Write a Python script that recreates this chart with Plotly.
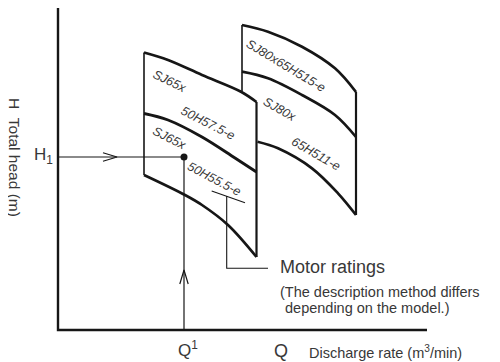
import plotly.graph_objects as go

# ---- data (chart units: Q to the right, H upward, origin at axis corner) ----
# Left pump block: SJ65x50H57.5-e (upper band) / SJ65x50H55.5-e (lower band)
left_top_q = [86, 110, 144, 183, 198.5]
left_top_h = [277.5, 270, 255, 238.3, 228]
left_mid_q = [86, 110, 144, 177, 198.5]
left_mid_h = [216.5, 210, 193, 172, 158]
left_bot_q = [86, 127, 144, 170, 198.5]
left_bot_h = [155, 135, 125, 105, 73]
left_edge_q = [86, 198.5]          # left / right vertical edges
left_edge_h = [[277.5, 155], [228, 73]]

# Right pump block: SJ80x65H515-e (upper band) / SJ80x65H511-e (lower band)
right_top_q = [184, 210, 244, 277, 298]
right_top_h = [305, 298.3, 283.3, 261.7, 238]
right_mid_q = [184, 210, 244, 277, 298]
right_mid_h = [258.3, 251.7, 235, 215, 193]
right_bot_q = [199.5, 220, 254, 280, 298]
right_bot_h = [188.3, 181.7, 161.7, 136.7, 115]
right_edge_q = [184, 298]
right_edge_h = [[305, 238.5], [238, 115]]

# Axes extents
axis_q_max = 369
axis_h_max = 322

# Operating point
Q1 = 126
H1 = 173
h_arrow_q = 59      # tip of arrow on H1 line
q_arrow_h = 60      # tip of arrow on Q1 line

# Motor-rating leader
underline_q = [153.7, 187]
underline_h = [139, 127.3]
leader_q = [168.7, 168.7, 210]
leader_h = [134, 61.7, 61.7]

# Band labels: (text, q, h, angle)
band_labels = [
    ("SJ65x", 111, 249, 26),
    ("50H57.5-e", 149.5, 207.5, 27),
    ("SJ65x", 111, 192.5, 27),
    ("50H55.5-e", 156, 151, 28),
    ("SJ80x65H515-e", 228, 264, 31),
    ("SJ80x", 221, 221, 30),
    ("65H511-e", 258, 176, 30),
]

LINE = "#161616"
TEXT = "#383838"
FONT = "Liberation Sans, Arial, sans-serif"

fig = go.Figure()

def add_line(q, h, width, shape="linear", color=LINE):
    fig.add_trace(go.Scatter(x=q, y=h, mode="lines",
                             line=dict(color=color, width=width, shape=shape),
                             hoverinfo="skip", showlegend=False))

# axes
add_line([0, 0, axis_q_max], [axis_h_max, 0, 0], 2.4)

# right block first (behind)
add_line(right_top_q, right_top_h, 2.7, "spline")
add_line(right_mid_q, right_mid_h, 2.7, "spline")
add_line(right_bot_q, right_bot_h, 2.7, "spline")
add_line([right_edge_q[0]] * 2, right_edge_h[0], 1.6)
add_line([right_edge_q[1]] * 2, right_edge_h[1], 2.2)

# left block
add_line(left_top_q, left_top_h, 2.7, "spline")
add_line(left_mid_q, left_mid_h, 2.9, "spline")
add_line(left_bot_q, left_bot_h, 2.7, "spline")
add_line([left_edge_q[0]] * 2, left_edge_h[0], 1.6)
add_line([left_edge_q[1]] * 2, left_edge_h[1], 2.2)

# operating lines
add_line([0, Q1], [H1, H1], 1.2)
add_line([Q1, Q1], [H1, 0], 1.2)
# open chevron arrows
al, aw = 14, 4.2
add_line([h_arrow_q - al, h_arrow_q, h_arrow_q - al], [H1 + aw, H1, H1 - aw], 1.2)
add_line([Q1 - aw, Q1, Q1 + aw], [q_arrow_h - al, q_arrow_h, q_arrow_h - al], 1.2)
fig.add_trace(go.Scatter(x=[Q1], y=[H1], mode="markers",
                         marker=dict(color=LINE, size=7), hoverinfo="skip",
                         showlegend=False))

# leader line
add_line(underline_q, underline_h, 1.1)
add_line(leader_q, leader_h, 1.1)

ann = []
for txt, q, h, ang in band_labels:
    ann.append(dict(x=q, y=h, text="<i>" + txt + "</i>", textangle=ang,
                    showarrow=False, font=dict(family=FONT, size=12.5, color=TEXT),
                    xanchor="center", yanchor="middle"))

ann += [
    dict(x=-43, y=173, text="H\u00a0\u00a0Total head (m)", textangle=90,
         showarrow=False, font=dict(family=FONT, size=15.5, color=TEXT)),
    dict(x=-14.5, y=174, text="H<sub>1</sub>", showarrow=False,
         font=dict(family=FONT, size=17, color=TEXT)),
    dict(x=130, y=-18.5, text="Q<sup>1</sup>", showarrow=False,
         font=dict(family=FONT, size=17, color=TEXT)),
    dict(x=222.8, y=-20.5, text="Q", showarrow=False,
         font=dict(family=FONT, size=18, color=TEXT)),
    dict(x=248.7, y=-21.5, text="Discharge rate (m<sup>3</sup>/min)", showarrow=False,
         xanchor="left", font=dict(family=FONT, size=14.5, color=TEXT)),
    dict(x=220, y=63.5, text="Motor ratings", showarrow=False, xanchor="left",
         font=dict(family=FONT, size=18, color=TEXT)),
    dict(x=220, y=38.5, text="(The description method differs", showarrow=False,
         xanchor="left", font=dict(family=FONT, size=14.5, color=TEXT)),
    dict(x=225, y=22.5, text="depending on the model.)", showarrow=False,
         xanchor="left", font=dict(family=FONT, size=14.5, color=TEXT)),
]

# The page body adds an 8px offset; the ranges compensate for it.
fig.update_layout(
    width=500, height=362,
    margin=dict(l=0, r=0, t=0, b=0),
    paper_bgcolor="white", plot_bgcolor="white",
    xaxis=dict(range=[-50, 450], visible=False, fixedrange=True),
    yaxis=dict(range=[-40, 322], visible=False, fixedrange=True),
    annotations=ann,
    showlegend=False,
)

fig.write_html("out.html")
